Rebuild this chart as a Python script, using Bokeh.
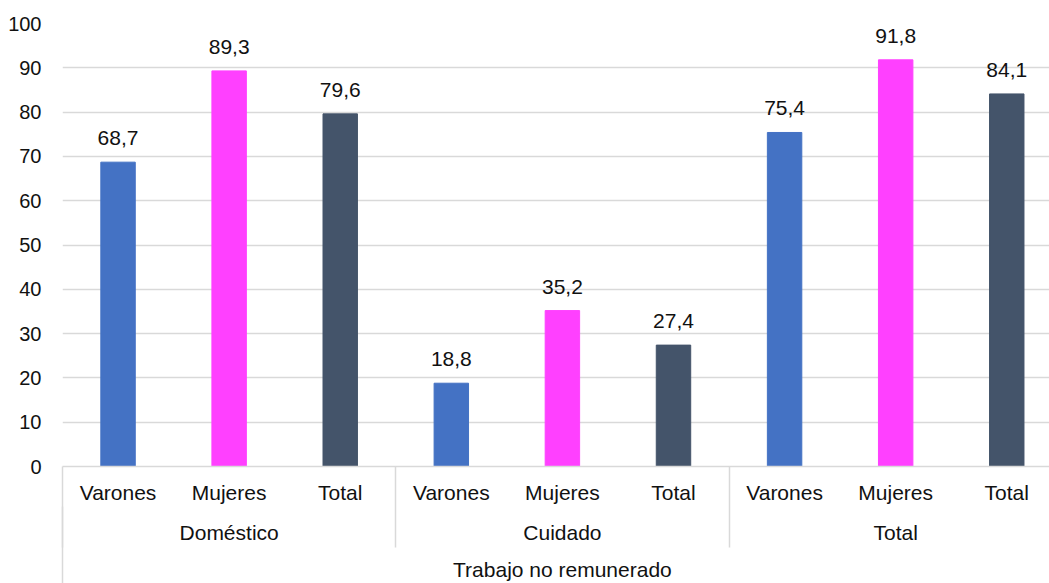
import numpy as np
from bokeh.plotting import figure
from bokeh.models import Range1d, LinearAxis, FixedTicker, ColumnDataSource, Grid
from bokeh.core.properties import value
from bokeh.embed import file_html
from bokeh.resources import INLINE

# ---- data ----
groups = ["Doméstico", "Cuidado", "Total"]
subgroups = ["Varones", "Mujeres", "Total"]
top_label = "Trabajo no remunerado"
values_domestico = [68.7, 89.3, 79.6]
values_cuidado = [18.8, 35.2, 27.4]
values_total = [75.4, 91.8, 84.1]
sub_colors = ["#4472C4", "#FF40FF", "#44546A"]
y_ticks = [0, 10, 20, 30, 40, 50, 60, 70, 80, 90, 100]

FONT = "Liberation Sans"
TXT = "#111111"
GRID = "#d9d9d9"

all_values = [values_domestico, values_cuidado, values_total]
n_sub = len(subgroups)
xs, tops, cols, labels = [], [], [], []
for gi, vals in enumerate(all_values):
    for si, v in enumerate(vals):
        xs.append(gi * n_sub + si + 0.5)
        tops.append(v)
        cols.append(sub_colors[si])
        labels.append(f"{v:.1f}".replace(".", ","))
src = ColumnDataSource(dict(x=xs, top=tops, color=cols, label=labels))

n_total = len(groups) * n_sub
slot_px = 111.09
frame_left = 62
frame_w = 1049 - frame_left
x_end = frame_w / slot_px

p = figure(width=1049, height=583, output_backend="svg", toolbar_location=None,
           x_range=Range1d(0, x_end), y_range=Range1d(0, 100),
           x_axis_location=None, min_border_left=frame_left, min_border_right=0,
           min_border_top=23, min_border_bottom=117)
p.outline_line_color = None
p.background_fill_color = "white"
p.border_fill_color = "white"
for g in p.center:
    if isinstance(g, Grid) and g.dimension == 0:
        g.visible = False

p.vbar(x="x", top="top", width=0.31, color="color", source=src)
p.text(x="x", y="top", text="label", source=src, text_align="center",
       text_baseline="alphabetic", y_offset=-24, text_font=value(FONT),
       text_font_size="21px", text_color=TXT)

# y axis
p.yaxis.ticker = FixedTicker(ticks=y_ticks)
p.yaxis.axis_line_color = None
p.yaxis.major_tick_line_color = None
p.yaxis.minor_tick_line_color = None
p.yaxis.major_label_standoff = 15
p.yaxis.major_label_text_font = FONT
p.yaxis.major_label_text_font_size = "20px"
p.yaxis.major_label_text_color = TXT
p.ygrid.ticker = FixedTicker(ticks=y_ticks)
p.ygrid.grid_line_color = GRID
p.ygrid.grid_line_width = 1.5

# group boundaries (separators drawn as outward minor ticks of the axes)
bounds = [gi * n_sub for gi in range(len(groups))]

# x axes (three levels)
ax1 = LinearAxis(ticker=FixedTicker(ticks=xs, minor_ticks=bounds),
                 major_label_overrides={x: subgroups[i % n_sub] for i, x in enumerate(xs)})
g_centers = [gi * n_sub + n_sub / 2 for gi in range(len(groups))]
ax2 = LinearAxis(ticker=FixedTicker(ticks=g_centers, minor_ticks=bounds[:1]),
                 major_label_overrides={x: groups[i] for i, x in enumerate(g_centers)})
ax3 = LinearAxis(ticker=FixedTicker(ticks=[n_total / 2]),
                 major_label_overrides={n_total / 2: top_label})
for ax in (ax1, ax2, ax3):
    ax.major_tick_line_color = None
    ax.major_tick_out = 0
    ax.major_tick_in = 0
    ax.minor_tick_out = 0
    ax.major_label_text_font = FONT
    ax.major_label_text_font_size = "21px"
    ax.major_label_text_color = TXT
    ax.minor_tick_line_color = GRID
    ax.minor_tick_line_width = 1.5
ax1.axis_line_color = GRID
ax1.axis_line_width = 1.5
ax1.minor_tick_in = -81
ax1.major_label_standoff = 14
ax2.axis_line_color = None
ax2.minor_tick_in = -90
ax2.major_label_standoff = 14
ax3.axis_line_color = None
ax3.minor_tick_line_color = None
ax3.major_label_standoff = 11
p.add_layout(ax1, "below")
p.add_layout(ax2, "below")
p.add_layout(ax3, "below")

open("out.html", "w").write(file_html(p, INLINE))
